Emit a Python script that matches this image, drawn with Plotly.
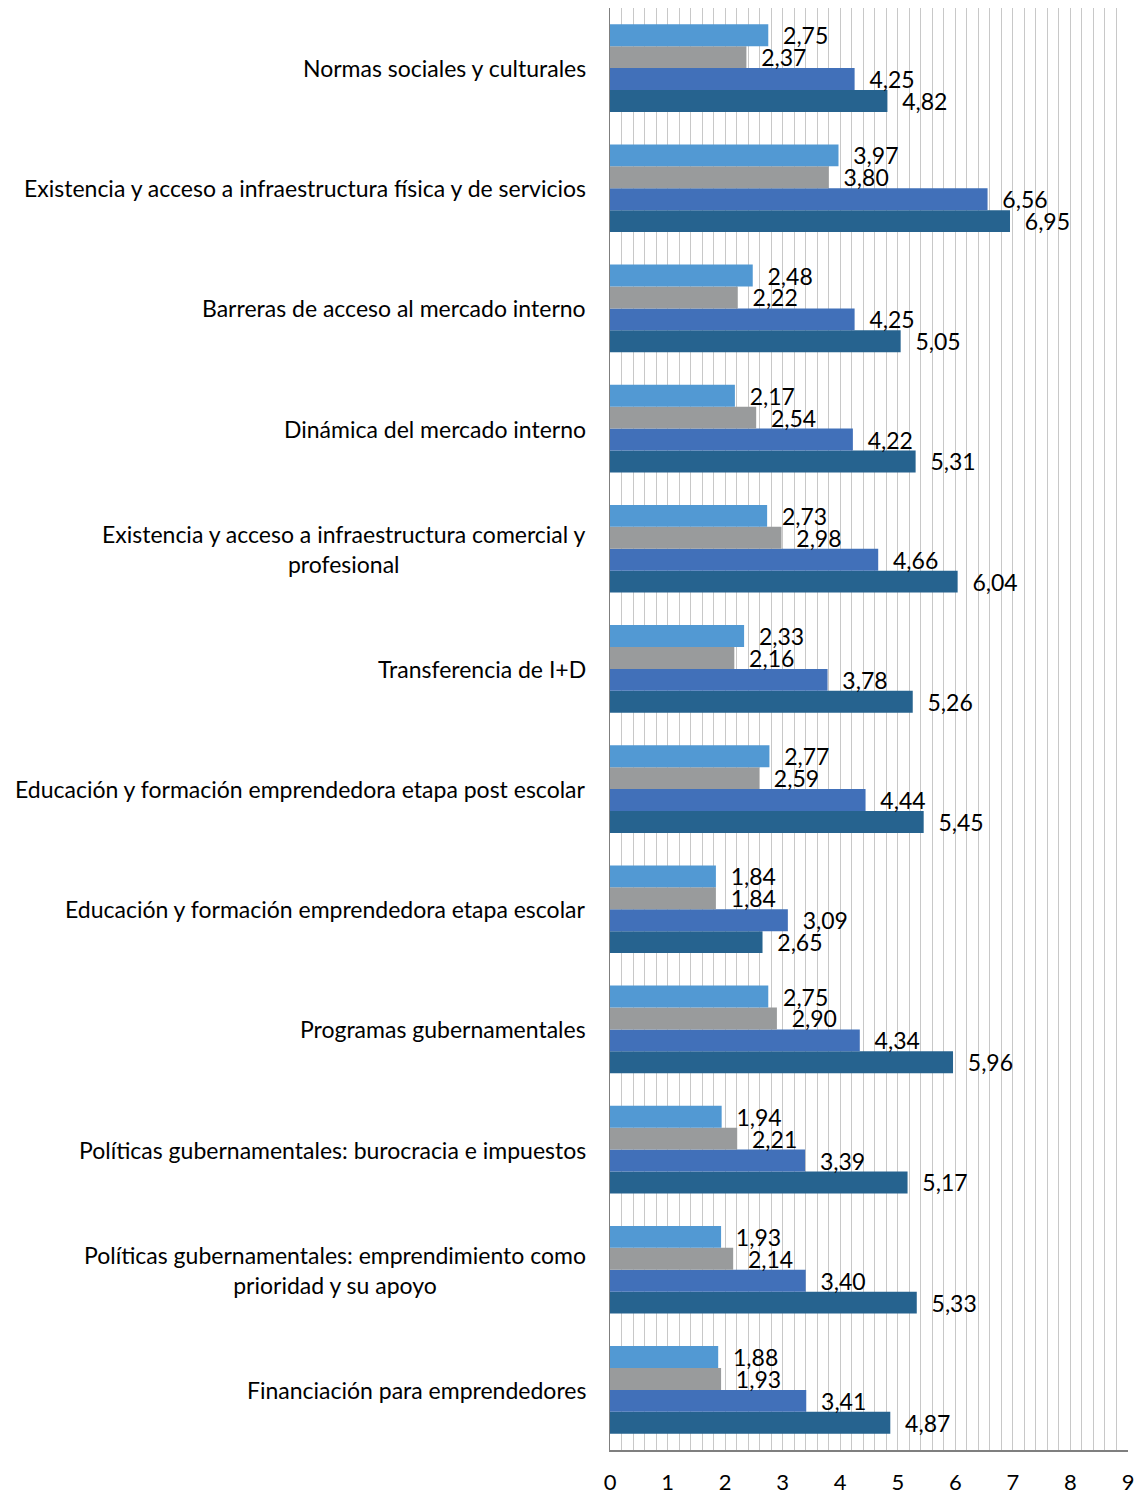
import plotly.graph_objects as go

categories = [
    "Normas sociales y culturales",
    "Existencia y acceso a infraestructura física y de servicios",
    "Barreras de acceso al mercado interno",
    "Dinámica del mercado interno",
    "Existencia y acceso a infraestructura comercial y<br>profesional",
    "Transferencia de I+D",
    "Educación y formación emprendedora etapa post escolar",
    "Educación y formación emprendedora etapa escolar",
    "Programas gubernamentales",
    "Políticas gubernamentales: burocracia e impuestos",
    "Políticas gubernamentales: emprendimiento como<br>prioridad y su apoyo",
    "Financiación para emprendedores",
]

serie_1 = [2.75, 3.97, 2.48, 2.17, 2.73, 2.33, 2.77, 1.84, 2.75, 1.94, 1.93, 1.88]
serie_2 = [2.37, 3.80, 2.22, 2.54, 2.98, 2.16, 2.59, 1.84, 2.90, 2.21, 2.14, 1.93]
serie_3 = [4.25, 6.56, 4.25, 4.22, 4.66, 3.78, 4.44, 3.09, 4.34, 3.39, 3.40, 3.41]
serie_4 = [4.82, 6.95, 5.05, 5.31, 6.04, 5.26, 5.45, 2.65, 5.96, 5.17, 5.33, 4.87]

x_ticks = [0, 1, 2, 3, 4, 5, 6, 7, 8, 9]

series = [
    ("Serie 4", serie_4, "#26638F"),
    ("Serie 3", serie_3, "#4170B9"),
    ("Serie 2", serie_2, "#999B9C"),
    ("Serie 1", serie_1, "#5299D3"),
]

FONT = "Lato, 'Open Sans', sans-serif"
FS = 23

# Plotly draws the first category at the bottom; reverse so first is on top
cats_plot = categories[::-1]

fig = go.Figure()
for name, vals, color in series:
    fig.add_trace(go.Bar(
        name=name,
        y=cats_plot,
        x=vals[::-1],
        orientation="h",
        marker=dict(color=color, line=dict(width=0)),
        texttemplate="  %{x:.2f}",
        textposition="outside",
        constraintext="none",
        cliponaxis=False,
        textfont=dict(family=FONT, size=FS, color="#000000"),
        showlegend=False,
    ))

for c in cats_plot:
    fig.add_annotation(
        x=0, xref="paper", y=c, yref="y",
        text=c, showarrow=False,
        xanchor="right", align="center",
        xshift=-22,
        font=dict(family=FONT, size=FS, color="#000000"),
    )

fig.update_layout(
    width=1139, height=1495,
    margin=dict(l=610, r=11, t=8, b=45),
    paper_bgcolor="white", plot_bgcolor="white",
    barmode="group", bargap=0.27, bargroupgap=0,
    separators=",.",
    font=dict(family=FONT, size=FS, color="#000000"),
    uniformtext=dict(mode=False),
)
fig.update_xaxes(
    range=[0, 9],
    tickvals=x_ticks,
    ticktext=[str(t) for t in x_ticks],
    showgrid=True, gridcolor="#C8C8C8", gridwidth=1,
    minor=dict(dtick=0.2, showgrid=True, gridcolor="#C8C8C8", gridwidth=1),
    showline=True, linecolor="#7F7F7F", linewidth=1.5,
    ticks="", zeroline=False,
    tickfont=dict(family=FONT, size=22, color="#000000"),
    ticklabelstandoff=12,
    automargin=False,
)
fig.update_yaxes(
    showticklabels=False,
    showline=True, linecolor="#7F7F7F", linewidth=1.5,
    showgrid=False, ticks="",
    automargin=False,
)

fig.write_html(
    "out.html",
    config={"displayModeBar": False, "staticPlot": True},
    post_script=(
        "document.documentElement.style.overflow='hidden';"
        "document.body.style.margin='0';document.body.style.overflow='hidden';"
        "var g=document.getElementById('{plot_id}');"
        "g.style.position='fixed';g.style.left='0px';g.style.top='0px';"
    ),
)
